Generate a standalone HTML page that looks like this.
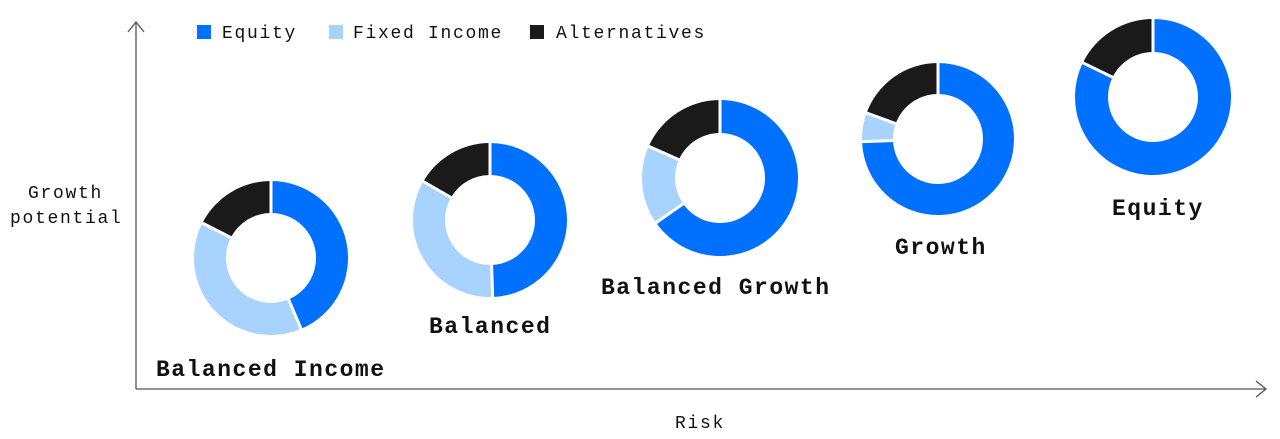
<!DOCTYPE html>
<html><head><meta charset="utf-8"><style>
html,body{margin:0;padding:0;background:#fff;width:1280px;height:439px;overflow:hidden}
svg text{font-family:"Liberation Mono","DejaVu Sans Mono",monospace;fill:#111}
.lab{font-size:23px;font-weight:bold;letter-spacing:1.5px}
.sm{font-size:18px;letter-spacing:1.7px}
</style></head><body>
<svg id="s" width="1280" height="439" viewBox="0 0 1280 439" xmlns="http://www.w3.org/2000/svg">
<g stroke="#555" stroke-width="1.3" fill="none">
<line x1="136" y1="22" x2="136" y2="389"/>
<polyline points="128,32 136,22 144,32"/>
<line x1="136" y1="389" x2="1266" y2="389"/>
<polyline points="1256,381 1266,389 1256,397"/>
</g>
<rect x="197" y="25" width="14" height="14" fill="#0070ff"/>
<text class="sm" x="222" y="38">Equity</text>
<rect x="329" y="25" width="14" height="14" fill="#a8d2ff"/>
<text class="sm" x="353" y="38">Fixed Income</text>
<rect x="530" y="25" width="14" height="14" fill="#1a1a1a"/>
<text class="sm" x="556" y="38">Alternatives</text>
<text class="sm" x="28" y="198">Growth</text>
<text class="sm" x="10" y="223">potential</text>
<text class="sm" x="675" y="428">Risk</text>
<text class="lab" x="156" y="376">Balanced Income</text>
<text class="lab" x="429" y="333">Balanced</text>
<text class="lab" x="601" y="294">Balanced Growth</text>
<text class="lab" x="895" y="254">Growth</text>
<text class="lab" x="1112" y="215">Equity</text>
<g id="d"></g>
</svg>
<script>
var donuts=[
 [271,258,77,45,[[0,157,'#0070ff'],[157,297,'#a8d2ff'],[297,360,'#1a1a1a']]],
 [490,220,77,45,[[0,178,'#0070ff'],[178,300,'#a8d2ff'],[300,360,'#1a1a1a']]],
 [720,178,78,45,[[0,235,'#0070ff'],[235,294,'#a8d2ff'],[294,360,'#1a1a1a']]],
 [938,139,76,45,[[0,268,'#0070ff'],[268,290,'#a8d2ff'],[290,360,'#1a1a1a']]],
 [1153,97,78,45,[[0,296,'#0070ff'],[296,360,'#1a1a1a']]]
];
var g=document.getElementById('d'),h='';
function pt(cx,cy,r,a){a=(a-90)*Math.PI/180;return [cx+r*Math.cos(a),cy+r*Math.sin(a)];}
donuts.forEach(function(d){
 var cx=d[0],cy=d[1],R=d[2],r=d[3];
 d[4].forEach(function(s){
  var a0=s[0],a1=s[1],lg=(a1-a0)>180?1:0;
  var p1=pt(cx,cy,R,a0),p2=pt(cx,cy,R,a1),p3=pt(cx,cy,r,a1),p4=pt(cx,cy,r,a0);
  h+='<path fill="'+s[2]+'" d="M'+p1+' A'+R+','+R+' 0 '+lg+' 1 '+p2+' L'+p3+' A'+r+','+r+' 0 '+lg+' 0 '+p4+'Z"/>';
 });
 d[4].forEach(function(s){
  var p1=pt(cx,cy,r-2,s[0]),p2=pt(cx,cy,R+2,s[0]);
  h+='<line stroke="#fff" stroke-width="3" x1="'+p1[0]+'" y1="'+p1[1]+'" x2="'+p2[0]+'" y2="'+p2[1]+'"/>';
 });
});
g.innerHTML=h;
</script>
</body></html>
